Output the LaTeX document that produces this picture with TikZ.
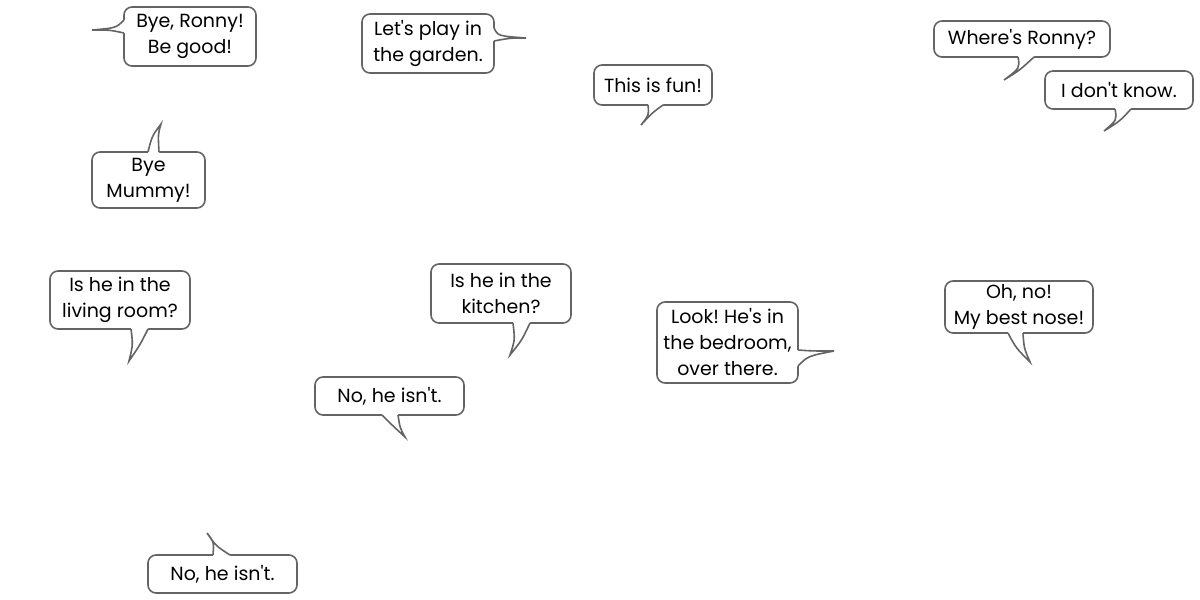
\documentclass[tikz,border=0pt]{standalone}
\usepackage{fontspec}
\setmainfont{Poppins}[Ligatures=TeXOff]
\frenchspacing
\usetikzlibrary{calc}
\definecolor{linegray}{HTML}{646464}
% tail of a speech bubble: base a, control, tip, control, base b, shift into the box
\newcommand\bubbletail[6]{%
  \fill[white] ($#1+#6$) -- #1 .. controls #2 .. #3 .. controls #4 .. #5 -- ($#5+#6$) -- cycle;
  \draw[tail] #1 .. controls #2 .. #3 .. controls #4 .. #5;}
\begin{document}
\begin{tikzpicture}[x=1pt,y=-1pt,
  bubble/.style={draw=linegray,line width=1.6pt,fill=white,rounded corners=8pt,align=center,inner sep=0pt,font=\fontsize{19}{26}\selectfont},
  tail/.style={draw=linegray,line width=1.6pt,line join=miter}]
  \useasboundingbox (0,0) rectangle (1200,600);
  \node[bubble,minimum width=132pt,minimum height=59pt] (bye) at (190,36.5) {Bye, Ronny!\\Be good!};
  \node[bubble,minimum width=132pt,minimum height=59pt] (garden) at (428,43.5) {Let's play in\\the garden.};
  \node[bubble,minimum width=118pt,minimum height=40pt] (fun) at (653,85) {This is fun!};
  \node[bubble,minimum width=176pt,minimum height=36pt] (where) at (1022,39) {Where's Ronny?};
  \node[bubble,minimum width=148pt,minimum height=38pt] (dontknow) at (1119,90) {I don't know.};
  \node[bubble,minimum width=113pt,minimum height=56pt] (mummy) at (148.5,180) {Bye\\Mummy!};
  \node[bubble,minimum width=140pt,minimum height=58pt] (living) at (120,300) {Is he in the\\living room?};
  \node[bubble,minimum width=140pt,minimum height=59pt] (kitchen) at (501,293.5) {Is he in the\\kitchen?};
  \node[bubble,minimum width=149pt,minimum height=38pt] (nomid) at (389.5,396) {No, he isn't.};
  \node[bubble,minimum width=141pt,minimum height=81pt] (bedroom) at (727.5,342.5) {Look! He's in\\the bedroom,\\over there.};
  \node[bubble,minimum width=148pt,minimum height=52pt] (nose) at (1019,307) {Oh, no!\\My best nose!};
  \node[bubble,minimum width=149pt,minimum height=38pt] (nolow) at (222.5,574) {No, he isn't.};
  % tails
  \bubbletail{(124,20)}{(116,28)}{(92,30)}{(110,30)}{(124,33)}{(3,0)}
  \bubbletail{(494,28)}{(498,36)}{(526,38)}{(510,38)}{(494,41)}{(-3,0)}
  \bubbletail{(648,105)}{(649,115)}{(641,125)}{(652,113)}{(663,105)}{(0,-3)}
  \bubbletail{(1018,57)}{(1020,68)}{(1004,80)}{(1020,70)}{(1034,57)}{(0,-3)}
  \bubbletail{(1115,109)}{(1117,120)}{(1104,131)}{(1120,121)}{(1131,109)}{(0,-3)}
  \bubbletail{(148,152)}{(152,136)}{(161,124)}{(158,134)}{(159,152)}{(0,3)}
  \bubbletail{(131,329)}{(133,345)}{(129,361)}{(140,345)}{(148,329)}{(0,-3)}
  \bubbletail{(513,323)}{(515,340)}{(510,355)}{(522,340)}{(530,323)}{(0,-3)}
  \bubbletail{(382,415)}{(392,425)}{(405,437)}{(400,428)}{(398,415)}{(0,-3)}
  \bubbletail{(798,350)}{(812,351)}{(834,351)}{(808,356)}{(798,366)}{(-3,0)}
  \bubbletail{(1008,333)}{(1016,348)}{(1030,362)}{(1024,348)}{(1023,333)}{(0,-3)}
  \bubbletail{(213,555)}{(214,542)}{(207,533)}{(216,546)}{(230,555)}{(0,3)}
\end{tikzpicture}
\end{document}
